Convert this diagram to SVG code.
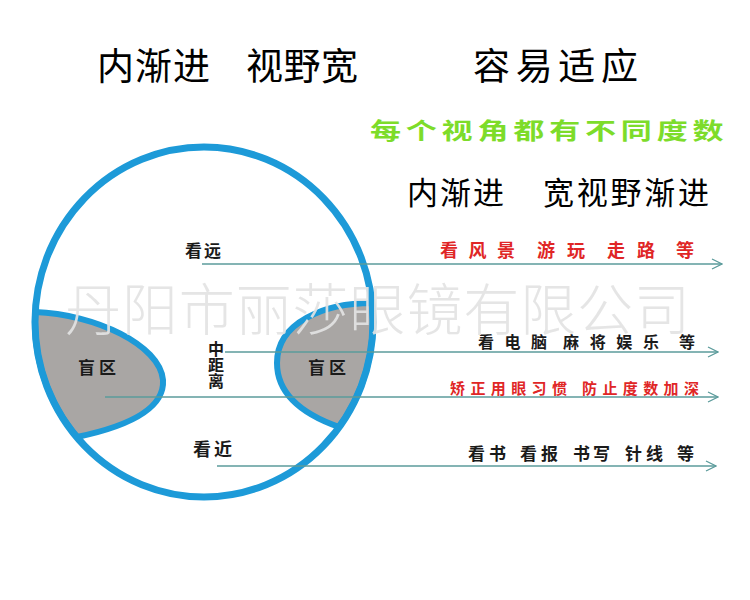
<svg xmlns="http://www.w3.org/2000/svg" width="750" height="600" viewBox="0 0 750 600">
<defs>
<style>
text{font-family:"Noto Sans CJK SC","Noto Sans CJK TC",sans-serif;}
.title{font-size:37px;fill:#000;}
.sub{font-size:31px;fill:#000;}
.green{font-size:23px;font-weight:bold;fill:#7ddc2a;}
.red{font-weight:bold;fill:#e02626;}
.blk{font-weight:bold;fill:#1a1a1a;}
.wm{font-size:56px;font-weight:300;fill:#e3e3e3;fill-opacity:0.92;}
.ring{fill:none;stroke:#1d9ad8;stroke-width:7;}
.spot{fill:#a9a6a4;stroke:#1d9ad8;stroke-width:6;stroke-linejoin:round;}
.ln{stroke:#5b9b9b;stroke-width:1.3;fill:none;}
</style>
<marker id="arr" markerUnits="userSpaceOnUse" viewBox="0 0 12 12" refX="11" refY="6" markerWidth="12" markerHeight="12" orient="auto">
<path d="M1,1 L11,6 L1,11" fill="none" stroke="#5b9b9b" stroke-width="1.3"/>
</marker>
</defs>
<rect width="750" height="600" fill="#fff"/>

<g id="titles">
<text class="title" x="97" y="80" textLength="113">内渐进</text>
<text class="title" x="246" y="80" textLength="112">视野宽</text>
<text class="title" x="473" y="80" textLength="165">容易适应</text>
<text class="green" transform="scale(1.35,1)" x="274" y="139" textLength="262">每个视角都有不同度数</text>
<text class="sub" x="407" y="204" textLength="97">内渐进</text>
<text class="sub" x="543" y="204" textLength="166">宽视野渐进</text>
</g>

<g id="lens">
<path class="spot" d="M35,312 C95,314 160,345 163,380 C165,412 120,428 77,437 A169,175 0 0 1 35,312 Z"/>
<path class="spot" d="M372,303 C325,303 277,322 277,363 C277,395 305,415 339,427 A169,175 0 0 0 372,303 Z"/>
<ellipse class="ring" cx="204" cy="322" rx="169" ry="175"/>
</g>

<g id="connectors">
<line class="ln" x1="202" y1="264" x2="722" y2="264" marker-end="url(#arr)"/>
<line class="ln" x1="225" y1="352" x2="718" y2="352" marker-end="url(#arr)"/>
<line class="ln" x1="105" y1="397" x2="718" y2="397" marker-end="url(#arr)"/>
<line class="ln" x1="217" y1="466" x2="716" y2="466" marker-end="url(#arr)"/>
</g>

<g id="labels">
<text class="blk" x="185" y="257" font-size="17" textLength="36">看远</text>
<text class="blk" x="216" y="355" font-size="16" text-anchor="middle">中</text>
<text class="blk" x="216" y="371" font-size="16" text-anchor="middle">距</text>
<text class="blk" x="216" y="387" font-size="16" text-anchor="middle">离</text>
<text class="blk" x="78" y="374" font-size="17" textLength="38">盲区</text>
<text class="blk" x="308" y="374" font-size="17" textLength="38">盲区</text>
<text class="blk" x="193" y="456" font-size="18" textLength="39">看近</text>
</g>

<g id="notes">
<text class="red" font-size="18" x="440" y="257" textLength="75">看风景</text>
<text class="red" font-size="18" x="537" y="257" textLength="48">游玩</text>
<text class="red" font-size="18" x="607" y="257" textLength="48">走路</text>
<text class="red" font-size="18" x="676" y="257">等</text>
<text class="blk" font-size="16" x="478" y="348" textLength="69">看电脑</text>
<text class="blk" font-size="16" x="563" y="348" textLength="96">麻将娱乐</text>
<text class="blk" font-size="16" x="679" y="348">等</text>
<text class="red" font-size="15" x="450" y="394" textLength="117">矫正用眼习惯</text>
<text class="red" font-size="15" x="582" y="394" textLength="117">防止度数加深</text>
<text class="blk" font-size="17" x="468" y="460" textLength="38">看书</text>
<text class="blk" font-size="17" x="520" y="460" textLength="38">看报</text>
<text class="blk" font-size="17" x="573" y="460" textLength="37">书写</text>
<text class="blk" font-size="17" x="625" y="460" textLength="38">针线</text>
<text class="blk" font-size="17" x="677" y="460">等</text>
</g>

<g id="watermark">
<text class="wm" x="65" y="330" textLength="625">丹阳市丽莎眼镜有限公司</text>
</g>
</svg>
